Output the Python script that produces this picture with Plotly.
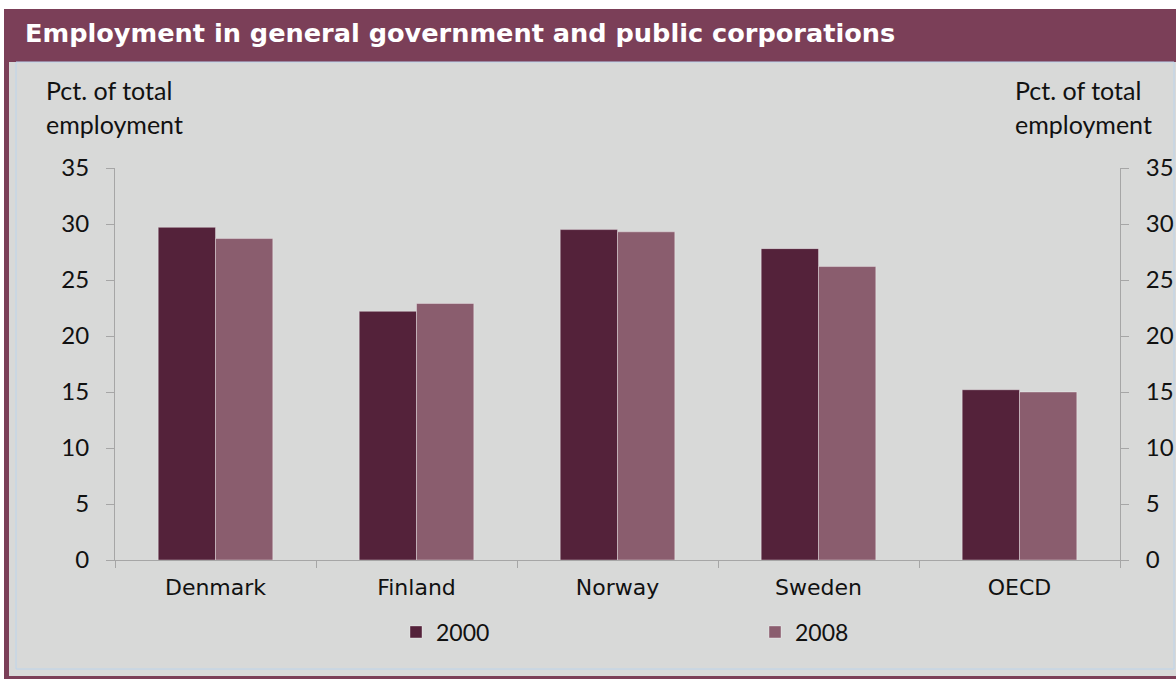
import plotly.graph_objects as go

# Share of total employment in general government and public corporations
countries = ["Denmark", "Finland", "Norway", "Sweden", "OECD"]
share_2000 = [29.7, 22.2, 29.5, 27.8, 15.2]
share_2008 = [28.7, 22.9, 29.3, 26.2, 15.0]
y_ticks = [0, 5, 10, 15, 20, 25, 30, 35]

W, H = 1176, 680
ML, MR, MT, MB = 115, 56, 168, 120
PW, PH = W - ML - MR, H - MT - MB

C_2000 = "#54223A"
C_2008 = "#8A5D6E"
BAND = "#7B3F58"
PANEL = "#D8D9D8"
LABEL_FONT = "Lato"
TEXT = "#111111"


def px_x(x):
    return (x - ML) / PW


def px_y(y):
    return (H - MB - y) / PH


fig = go.Figure()
fig.add_trace(go.Bar(
    name="2000", x=countries, y=share_2000, marker_color=C_2000,
    marker_line=dict(color="rgba(255,255,255,0.35)", width=1),
    legend="legend",
))
fig.add_trace(go.Bar(
    name="2008", x=countries, y=share_2008, marker_color=C_2008,
    marker_line=dict(color="rgba(255,255,255,0.35)", width=1),
    legend="legend2",
))
# carrier for the right-hand axis
fig.add_trace(go.Scatter(
    x=countries, y=[None] * len(countries), yaxis="y2", mode="lines",
    showlegend=False, hoverinfo="skip",
))

shapes = [
    # maroon frame
    dict(type="rect", xref="paper", yref="paper", layer="below",
         x0=px_x(4), x1=px_x(W), y0=px_y(679), y1=px_y(9),
         fillcolor=BAND, line_width=0),
    # grey panel
    dict(type="rect", xref="paper", yref="paper", layer="below",
         x0=px_x(9), x1=px_x(W), y0=px_y(676), y1=px_y(62),
         fillcolor=PANEL, line_width=0),
    # thin inner border
    dict(type="rect", xref="paper", yref="paper", layer="below",
         x0=px_x(16), x1=px_x(1174), y0=px_y(669), y1=px_y(62),
         fillcolor="rgba(0,0,0,0)", line=dict(color="#BCD4EC", width=1)),
]

annotations = [
    dict(text="<b>Employment in general government and public corporations</b>",
         xref="paper", yref="paper", x=px_x(23), y=px_y(33),
         xanchor="left", yanchor="middle", showarrow=False,
         font=dict(family="DejaVu Sans", size=25.6, color="white")),
]
for x0 in (44, 1013):
    for txt, yc in [("Pct. of total", 90), ("employment", 124)]:
        annotations.append(dict(
            text=txt, xref="paper", yref="paper", x=px_x(x0), y=px_y(yc),
            xanchor="left", yanchor="middle", showarrow=False,
            font=dict(family=LABEL_FONT, size=25, color=TEXT)))

legend_style = dict(
    orientation="h", yanchor="middle", xanchor="left", y=px_y(632),
    bgcolor="rgba(0,0,0,0)", itemwidth=30,
    font=dict(family=LABEL_FONT, size=23, color=TEXT),
)

axis_line = "#A6A6A6"
fig.update_layout(
    width=W, height=H,
    margin=dict(l=ML, r=MR, t=MT, b=MB, pad=0, autoexpand=False),
    paper_bgcolor="white", plot_bgcolor="rgba(0,0,0,0)",
    barmode="group", bargap=0.43, bargroupgap=0,
    shapes=shapes, annotations=annotations,
    showlegend=True,
    legend=dict(legend_style, x=px_x(396)),
    legend2=dict(legend_style, x=px_x(755)),
    xaxis=dict(
        type="category", tickson="boundaries", ticks="outside", ticklen=7,
        tickcolor=axis_line, showline=True, linecolor=axis_line, linewidth=1,
        showgrid=False, ticklabelstandoff=8,
        tickfont=dict(family="DejaVu Sans", size=22, color=TEXT),
    ),
    yaxis=dict(
        range=[0, 35], tickvals=y_ticks, ticks="outside", ticklen=8,
        tickcolor=axis_line, showline=True, linecolor=axis_line, linewidth=1,
        showgrid=False, zeroline=False, ticklabelstandoff=12,
        tickfont=dict(family=LABEL_FONT, size=24, color=TEXT),
    ),
    yaxis2=dict(
        overlaying="y", side="right", range=[0, 35], tickvals=y_ticks,
        ticks="outside", ticklen=8, tickcolor=axis_line, showline=True,
        linecolor=axis_line, linewidth=1, showgrid=False, zeroline=False,
        ticklabelstandoff=12,
        tickfont=dict(family=LABEL_FONT, size=24, color=TEXT),
    ),
)

fig.write_html("out.html")
